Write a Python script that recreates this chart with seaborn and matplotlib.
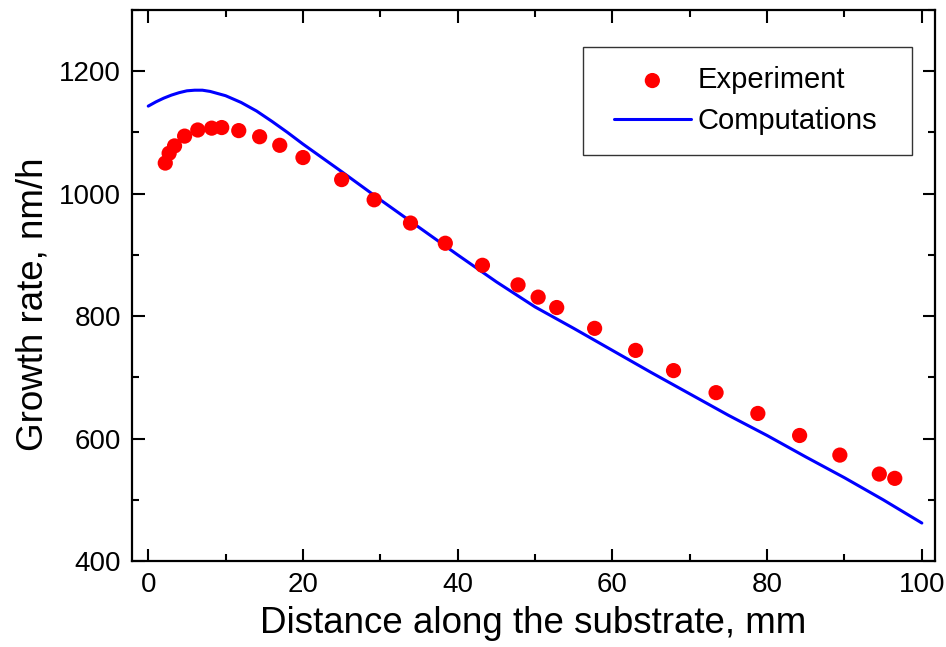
import matplotlib
matplotlib.use("Agg")
import matplotlib.pyplot as plt
import seaborn as sns
import numpy as np
import pandas as pd
from matplotlib.ticker import MultipleLocator
from matplotlib.legend_handler import HandlerLine2D, HandlerPathCollection
from matplotlib.collections import PathCollection
from matplotlib.lines import Line2D

exp_x = [2.2, 2.7, 3.4, 4.7, 6.4, 8.2, 9.5, 11.7, 14.4, 17.0, 20.0, 25.0, 29.2,
         33.9, 38.4, 43.2, 47.8, 50.4, 52.8, 57.7, 63.0, 67.9, 73.4, 78.8, 84.2,
         89.4, 94.5, 96.5]
exp_y = [1050, 1066, 1078, 1094, 1104, 1107, 1108, 1103, 1093, 1079, 1059, 1023, 990,
         952, 919, 883, 851, 831, 814, 780, 744, 711, 675, 641, 605,
         573, 542, 535]

comp_x = [0, 1, 2, 3, 4, 5, 6, 7, 8, 10, 12, 14, 16, 18, 20, 25, 30, 35, 40, 45,
          50, 55, 60, 65, 70, 75, 80, 85, 90, 95, 100]
comp_y = [1143, 1150, 1156, 1161, 1165, 1168, 1169, 1169, 1167, 1160, 1149, 1135,
          1118, 1100, 1081, 1036, 990, 945, 900, 856, 815, 780, 744, 708, 673, 638,
          605, 570, 536, 500, 462]

exp_df = pd.DataFrame({"x": exp_x, "y": exp_y})
comp_df = pd.DataFrame({"x": comp_x, "y": comp_y})

sns.set_style("ticks")
plt.rcParams["font.family"] = ["Liberation Sans", "DejaVu Sans"]
plt.rcParams["text.color"] = "black"
plt.rcParams["axes.labelcolor"] = "black"

fig = plt.figure(figsize=(9.46, 6.47), dpi=100)
L, R, T, B = 132, 935, 10, 561
ax = fig.add_axes([L / 946, 1 - B / 647, (R - L) / 946, (B - T) / 647])

sns.lineplot(data=comp_df, x="x", y="y", ax=ax, color="#0000ff", linewidth=2.2,
             label="Computations", zorder=2)
sns.scatterplot(data=exp_df, x="x", y="y", ax=ax, color="#ff0000", s=120,
                edgecolor="none", label="Experiment", zorder=3)

ax.set_xlim(-2.1, 101.7)
ax.set_ylim(400, 1300)
ax.xaxis.set_major_locator(MultipleLocator(20))
ax.xaxis.set_minor_locator(MultipleLocator(10))
ax.yaxis.set_major_locator(MultipleLocator(200))
ax.yaxis.set_minor_locator(MultipleLocator(100))
ax.tick_params(which="both", direction="in", top=True, right=True, width=1.5,
               labelsize=20, colors="black")
ax.tick_params(which="major", length=9, pad=8)
ax.tick_params(which="minor", length=5)
for s in ax.spines.values():
    s.set_linewidth(1.6)
    s.set_color("black")

ax.set_xlabel("Distance along the substrate, mm", fontsize=26.5, labelpad=5.5)
ax.set_ylabel("Growth rate, nm/h", fontsize=26.5, labelpad=6, y=0.4655)

fs = 21 * 100 / 72.0  # legend font size in px
handles, labels = ax.get_legend_handles_labels()
order = [labels.index("Experiment"), labels.index("Computations")]
x0 = (583 - L) / (R - L)
x1 = (912 - L) / (R - L)
ytop = (B - 46.7) / (B - T)
leg = ax.legend([handles[i] for i in order], [labels[i] for i in order],
                loc="upper left", bbox_to_anchor=(x0, 0.5, x1 - x0, ytop - 0.5),
                mode="expand", borderaxespad=0,
                fontsize=21, frameon=True, fancybox=False, edgecolor="black",
                handlelength=88.7 / fs, handletextpad=6.5 / fs,
                borderpad=19.5 / fs, labelspacing=0.45,
                handler_map={Line2D: HandlerLine2D(xpad=11 / fs),
                             PathCollection: HandlerPathCollection(xpad=11 / fs)})
leg.get_frame().set_linewidth(1.0)

fig.savefig("out.png", dpi=100)
